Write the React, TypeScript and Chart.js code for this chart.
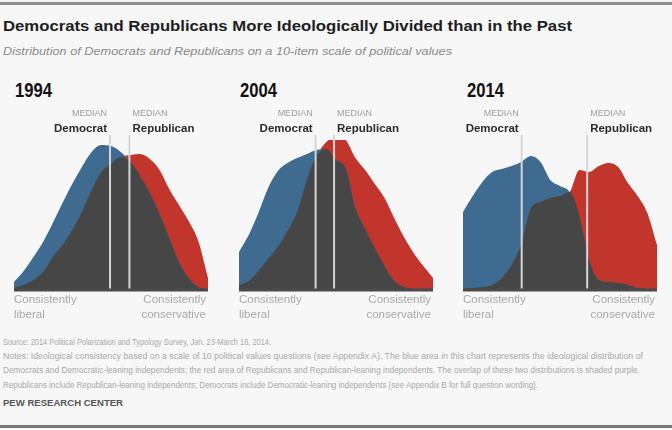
import React, { useEffect, useLayoutEffect, useRef } from "react";
import { Chart, registerables } from "chart.js";

Chart.register(...registerables);

// ---- data ----
const SCALE = [-10, -9, -8, -7, -6, -5, -4, -3, -2, -1, 0, 1, 2, 3, 4, 5, 6, 7, 8, 9, 10];
const YEARS = ["1994", "2004", "2014"];

const DEM_1994 = [0.8, 1.9, 3.3, 4.8, 6.7, 8.7, 10.6, 12.3, 13.8, 14.5, 14.4, 13.8, 12.8, 11.4, 9.7, 7.6, 5.2, 2.8, 1.2, 0.3, 0];
const REP_1994 = [0.2, 0.5, 1.0, 1.8, 3.3, 4.5, 6.0, 7.8, 10.0, 11.8, 12.6, 13.3, 13.5, 13.6, 13.1, 12.0, 10.1, 8.5, 6.9, 4.9, 1.2];

const DEM_2004 = [3.8, 5.5, 7.7, 10.2, 11.9, 12.7, 13.2, 13.6, 14.0, 14.1, 13.0, 12.2, 8.2, 6.1, 4.2, 2.4, 0.9, 0.3, 0.1, 0, 0];
const REP_2004 = [0.5, 0.9, 1.9, 3.1, 4.3, 5.9, 7.8, 11.0, 13.4, 14.8, 15.3, 15.0, 13.2, 12.0, 10.6, 9.2, 7.2, 5.3, 3.7, 2.4, 1.2];

const DEM_2014 = [7.8, 9.4, 10.8, 11.8, 12.1, 12.4, 12.8, 13.4, 12.8, 11.0, 10.4, 9.8, 7.4, 3.0, 1.0, 0.8, 0.7, 0.5, 0.2, 0.1, 0];
const REP_2014 = [0.1, 0.2, 0.3, 0.5, 1.2, 2.5, 4.5, 8.2, 8.8, 9.2, 9.4, 9.8, 12.0, 11.8, 12.4, 12.7, 12.3, 10.7, 9.4, 7.7, 4.5];

const DEM_MEDIANS = [-0.1, -2.1, -3.95];
const REP_MEDIANS = [1.9, -0.2, 2.8];

const DEM_SERIES = [DEM_1994, DEM_2004, DEM_2014];
const REP_SERIES = [REP_1994, REP_2004, REP_2014];

const TITLE = "Democrats and Republicans More Ideologically Divided than in the Past";
const SUBTITLE = "Distribution of Democrats and Republicans on a 10-item scale of political values";
const SOURCE = "Source: 2014 Political Polarization and Typology Survey, Jan. 23-March 16, 2014.";
const NOTES = [
  "Notes: Ideological consistency based on a scale of 10 political values questions (see Appendix A). The blue area in this chart represents the ideological distribution of",
  "Democrats and Democratic-leaning independents; the red area of Republicans and Republican-leaning independents. The overlap of these two distributions is shaded purple.",
  "Republicans include Republican-leaning independents; Democrats include Democratic-leaning independents (see Appendix B for full question wording).",
];
const CREDIT = "PEW RESEARCH CENTER";

// ---- styling ----
const BG = "#f7f7f7";
const BLUE = "#3e6b8f";
const RED = "#c1352d";
const OVERLAP = "#464646";
const FONT = "'Liberation Sans', Arial, Helvetica, sans-serif";

const PANEL_LEFTS = [14, 238.5, 463];
const PANEL_W = 194;
const PAD_X = 8;
const CANVAS_TOP = 100;
const PAD_TOP = 40;
const PAD_BOTTOM = 35;
const CANVAS_H = 225;

function Fit(props: { text: string; left: number; cy: number; width: number; style: React.CSSProperties }) {
  const ref = useRef<HTMLSpanElement>(null);
  useLayoutEffect(() => {
    const el = ref.current;
    if (!el) return;
    el.style.transform = "translateY(-50%)";
    const w = el.getBoundingClientRect().width;
    if (w > 0) el.style.transform = `translateY(-50%) scaleX(${props.width / w})`;
  }, [props.text, props.width]);
  return (
    <span
      ref={ref}
      style={{
        position: "absolute",
        left: props.left,
        top: props.cy,
        whiteSpace: "nowrap",
        lineHeight: 1,
        transformOrigin: "0 50%",
        fontFamily: FONT,
        ...props.style,
      }}
    >
      {props.text}
    </span>
  );
}

const annoPlugin = {
  id: "pewAnno",
  afterDatasetsDraw(chart: any, _args: any, opts: any) {
    const { ctx, chartArea, scales } = chart;
    const { left, right, top, bottom } = chartArea;
    const x = scales.x;
    ctx.save();
    // baseline
    ctx.fillStyle = "#4a4a4a";
    ctx.fillRect(left, bottom - 1.5, right - left, 3);
    // median lines
    const dx = x.getPixelForValue(opts.dem);
    const rx = x.getPixelForValue(opts.rep);
    ctx.strokeStyle = "#d6d6d6";
    ctx.lineWidth = 2;
    for (const px of [dx, rx]) {
      ctx.beginPath();
      ctx.moveTo(px, top - 5);
      ctx.lineTo(px, bottom - 1.5);
      ctx.stroke();
    }
    // median labels
    ctx.textBaseline = "middle";
    ctx.font = `9px ${FONT}`;
    ctx.fillStyle = "#9c9c9c";
    ctx.textAlign = "right";
    ctx.fillText("MEDIAN", dx - 3, top - 26);
    ctx.textAlign = "left";
    ctx.fillText("MEDIAN", rx + 3, top - 26);
    ctx.font = `bold 11.5px ${FONT}`;
    ctx.fillStyle = "#2b2b2b";
    ctx.textAlign = "right";
    ctx.fillText("Democrat", dx - 3, top - 11);
    ctx.textAlign = "left";
    ctx.fillText("Republican", rx + 3, top - 11);
    // end labels
    ctx.font = `11.5px ${FONT}`;
    ctx.fillStyle = "#a8a8a8";
    ctx.textAlign = "left";
    ctx.fillText("Consistently", left, bottom + 10);
    ctx.fillText("liberal", left, bottom + 25);
    ctx.textAlign = "right";
    ctx.fillText("Consistently", right - 2, bottom + 10);
    ctx.fillText("conservative", right - 2, bottom + 25);
    ctx.restore();
  },
};

function Panel(props: { index: number }) {
  const ref = useRef<HTMLCanvasElement>(null);
  useEffect(() => {
    const i = props.index;
    const dem = DEM_SERIES[i];
    const rep = REP_SERIES[i];
    const overlap = dem.map((d, k) => Math.min(d, rep[k]));
    const mk = (arr: number[]) => SCALE.map((s, k) => ({ x: s, y: arr[k] }));
    const common = {
      fill: "origin",
      borderWidth: 0,
      pointRadius: 0,
      cubicInterpolationMode: "monotone",
    };
    const chart = new Chart(ref.current!, {
      type: "line",
      data: {
        datasets: [
          { ...common, label: "Overlap", data: mk(overlap), backgroundColor: OVERLAP, borderColor: OVERLAP },
          { ...common, label: "Democrat", data: mk(dem), backgroundColor: BLUE, borderColor: BLUE },
          { ...common, label: "Republican", data: mk(rep), backgroundColor: RED, borderColor: RED },
        ],
      } as any,
      options: {
        responsive: false,
        animation: false,
        events: [],
        layout: { padding: { left: PAD_X, right: PAD_X, top: PAD_TOP, bottom: PAD_BOTTOM } },
        scales: {
          x: { type: "linear", min: -10, max: 10, display: false },
          y: { min: 0, max: 15, display: false },
        },
        plugins: {
          legend: { display: false },
          tooltip: { enabled: false },
          pewAnno: { dem: DEM_MEDIANS[i], rep: REP_MEDIANS[i] },
        } as any,
      },
      plugins: [annoPlugin],
    });
    return () => chart.destroy();
  }, [props.index]);
  return (
    <canvas
      ref={ref}
      width={PANEL_W + 2 * PAD_X}
      height={CANVAS_H}
      style={{
        position: "absolute",
        left: PANEL_LEFTS[props.index] - PAD_X,
        top: CANVAS_TOP,
        width: PANEL_W + 2 * PAD_X,
        height: CANVAS_H,
      }}
    />
  );
}

export default function App() {
  const yearLefts = [15, 240, 467];
  return (
    <div
      style={{
        position: "fixed",
        left: 0,
        top: 0,
        width: 672,
        height: 430,
        background: BG,
        overflow: "hidden",
        fontFamily: FONT,
      }}
    >
      <div style={{ position: "absolute", left: 0, top: 2, width: 672, height: 3, background: "#8e8e8e" }} />
      <div style={{ position: "absolute", left: 0, top: 425, width: 672, height: 3, background: "#7a7a7a" }} />
      <Fit text={TITLE} left={3} cy={25} width={569} style={{ fontSize: 15, fontWeight: "bold", color: "#1e1e1e" }} />
      <Fit text={SUBTITLE} left={3} cy={50.5} width={449} style={{ fontSize: 11, fontStyle: "italic", color: "#8a8a8a" }} />
      {YEARS.map((y, i) => (
        <Fit key={y} text={y} left={yearLefts[i]} cy={90} width={37} style={{ fontSize: 20, fontWeight: "bold", color: "#111" }} />
      ))}
      {YEARS.map((y, i) => (
        <Panel key={"p" + y} index={i} />
      ))}
      <Fit text={SOURCE} left={3} cy={342} width={268} style={{ fontSize: 8.5, color: "#a8a8a8" }} />
      <Fit text={NOTES[0]} left={3} cy={355.5} width={640} style={{ fontSize: 8.5, color: "#a8a8a8" }} />
      <Fit text={NOTES[1]} left={3} cy={370} width={637} style={{ fontSize: 8.5, color: "#a8a8a8" }} />
      <Fit text={NOTES[2]} left={3} cy={384.5} width={535} style={{ fontSize: 8.5, color: "#a8a8a8" }} />
      <Fit text={CREDIT} left={3} cy={403} width={120} style={{ fontSize: 8.5, fontWeight: "bold", color: "#555" }} />
    </div>
  );
}
